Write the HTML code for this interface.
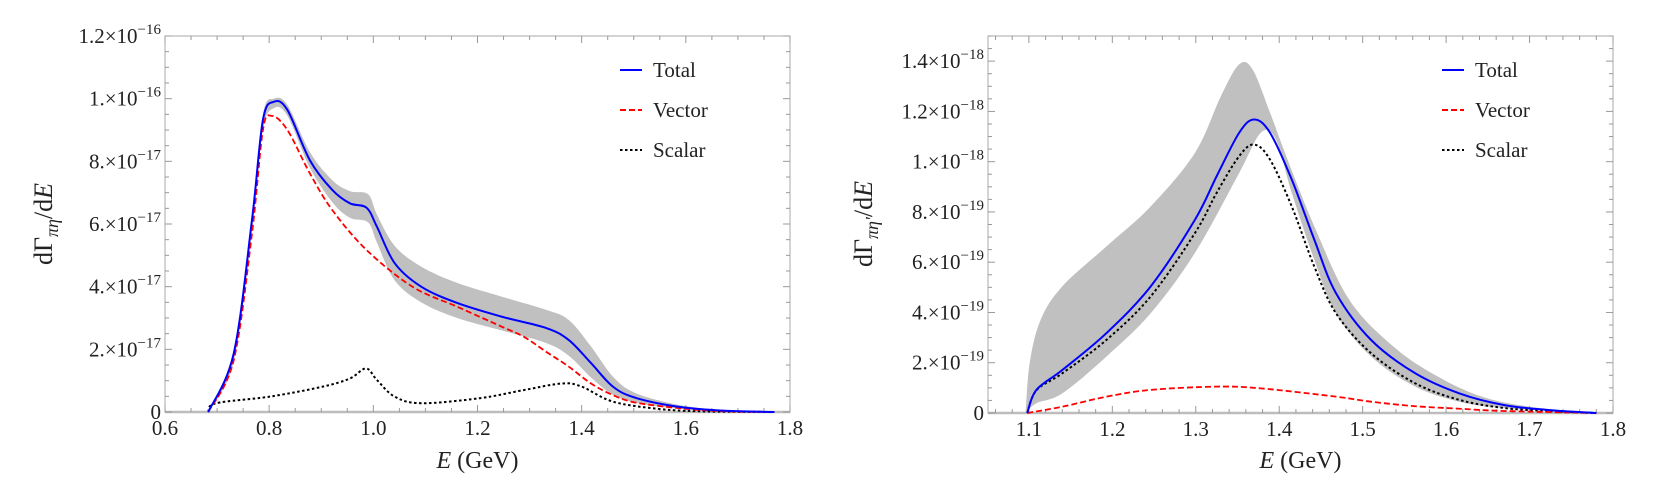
<!DOCTYPE html>
<html><head><meta charset="utf-8">
<style>
html,body{margin:0;padding:0;background:#fff;}
svg{display:block;font-family:"Liberation Serif",serif;}
</style></head>
<body>
<svg id="svg" width="1661" height="499" viewBox="0 0 1661 499" xmlns="http://www.w3.org/2000/svg">
<g id="left"></g>
<g id="right"></g>
</svg>
<script>
// ---------- Left chart data (values in 1e-17) ----------
const L_totalE = [0.683,0.732,0.767,0.788,0.809,0.835,0.878,0.921,0.955,0.987,1.007,1.041,1.092,1.161,1.247,1.332,1.375,1.418,1.46,1.504,1.589,1.675,1.77];
const L_totalV = [0,1.87,6.13,9.32,9.9,9.64,8.04,7.09,6.66,6.52,5.91,4.75,4.0,3.48,3.04,2.68,2.30,1.56,0.81,0.45,0.16,0.04,0];
const L_vectorE = [0.683,0.732,0.767,0.788,0.805,0.835,0.878,0.921,0.987,1.075,1.161,1.247,1.289,1.332,1.375,1.418,1.46,1.504,1.589,1.675,1.77];
const L_vectorV = [0,1.66,5.7,9.0,9.45,9.0,7.62,6.45,5.17,4.0,3.36,2.72,2.40,1.92,1.45,0.91,0.54,0.30,0.12,0.02,0];
const L_scalarE = [0.683,0.698,0.801,0.903,0.955,0.986,1.007,1.041,1.092,1.204,1.289,1.362,1.40,1.46,1.547,1.632,1.77];
const L_scalarV = [0,0.28,0.49,0.81,1.07,1.39,1.02,0.49,0.28,0.44,0.70,0.91,0.81,0.33,0.10,0.02,0];
const L_bandE = [0.683,0.732,0.767,0.788,0.809,0.835,0.878,0.921,0.955,0.99,1.007,1.041,1.092,1.161,1.247,1.332,1.375,1.418,1.46,1.504,1.589,1.675,1.77];
const L_bandUp = [0,2.0,6.3,9.5,10.0,9.8,8.3,7.4,7.05,6.95,6.3,5.3,4.64,4.12,3.68,3.26,2.94,2.09,1.13,0.6,0.22,0.06,0];
const L_bandLo = [0,1.6,5.8,9.0,9.7,9.45,7.8,6.7,6.2,6.05,5.4,4.2,3.5,3.0,2.6,2.2,1.8,1.1,0.55,0.3,0.1,0.02,0];
const L_xTicks = ["0.6","0.8","1.0","1.2","1.4","1.6","1.8"];
const L_yMant = ["0","2.","4.","6.","8.","1.","1.2"];
const L_yExp = ["","−17","−17","−17","−17","−16","−16"];

// ---------- Right chart data (values in 1e-19) ----------
const R_totalE = [1.098,1.109,1.140,1.193,1.246,1.299,1.325,1.352,1.370,1.389,1.415,1.442,1.468,1.510,1.563,1.616,1.669,1.722,1.78];
const R_totalV = [0,0.92,1.71,3.18,5.04,7.69,9.42,11.15,11.68,11.15,9.29,6.90,4.77,2.91,1.58,0.78,0.32,0.12,0];
const R_scalarE = [1.098,1.109,1.140,1.193,1.246,1.299,1.325,1.352,1.370,1.389,1.415,1.442,1.468,1.510,1.563,1.616,1.669,1.722,1.78];
const R_scalarV = [0,0.9,1.58,2.91,4.64,7.16,8.76,10.22,10.68,10.08,8.22,5.83,3.97,2.38,1.18,0.52,0.2,0.08,0];
const R_vectorE = [1.098,1.14,1.193,1.246,1.325,1.378,1.468,1.51,1.563,1.616,1.669,1.78];
const R_vectorV = [0,0.25,0.65,0.92,1.05,0.98,0.65,0.45,0.27,0.17,0.08,0];
const R_upE = [1.096,1.101,1.114,1.140,1.193,1.246,1.299,1.330,1.352,1.368,1.389,1.410,1.442,1.484,1.537,1.590,1.643,1.70,1.78];
const R_upV = [0,2.0,3.7,5.04,6.63,8.22,10.35,12.6,13.87,13.67,11.95,10.08,7.43,4.5,2.64,1.45,0.65,0.25,0];
const R_loE = [1.096,1.109,1.140,1.193,1.246,1.299,1.352,1.378,1.396,1.415,1.442,1.468,1.510,1.563,1.616,1.669,1.78];
const R_loV = [0,0.39,0.78,2.25,3.97,6.37,9.55,11.15,10.88,8.76,6.1,3.97,2.25,1.05,0.45,0.2,0];
const R_xTicks = ["1.1","1.2","1.3","1.4","1.5","1.6","1.7","1.8"];
const R_yMant = ["0","2.","4.","6.","8.","1.","1.2","1.4"];
const R_yExp = ["","−19","−19","−19","−19","−18","−18","−18"];

const NS="http://www.w3.org/2000/svg";
function mk(parent,tag,attrs){const e=document.createElementNS(NS,tag);for(const k in attrs)e.setAttribute(k,attrs[k]);parent.appendChild(e);return e;}
function smooth(pts){
  let d="M"+pts[0][0].toFixed(2)+","+pts[0][1].toFixed(2);
  for(let i=0;i<pts.length-1;i++){
    const p0=pts[Math.max(0,i-1)],p1=pts[i],p2=pts[i+1],p3=pts[Math.min(pts.length-1,i+2)];
    const c1=[p1[0]+(p2[0]-p0[0])/6,p1[1]+(p2[1]-p0[1])/6];
    const c2=[p2[0]-(p3[0]-p1[0])/6,p2[1]-(p3[1]-p1[1])/6];
    d+="C"+c1[0].toFixed(2)+","+c1[1].toFixed(2)+" "+c2[0].toFixed(2)+","+c2[1].toFixed(2)+" "+p2[0].toFixed(2)+","+p2[1].toFixed(2);
  }
  return d;
}
function pts(E,V,sx,sy){return E.map((e,i)=>[sx(e),sy(V[i])]);}

function chart(g,cfg){
  const {x0,x1,y0,y1,xmin,xmax,ymax}=cfg;
  const sx=e=>x0+(e-xmin)/(xmax-xmin)*(x1-x0);
  const sy=v=>y0-(v/ymax)*(y0-y1);
  const up=pts(cfg.upE,cfg.upV,sx,sy), lo=pts(cfg.loE,cfg.loV,sx,sy).reverse();
  let bd=smooth(up); bd+=" L"+lo[0][0]+","+lo[0][1]+" "+smooth(lo).slice(1)+"Z";
  const band=mk(g,"path",{d:bd,fill:"#c0c0c0",stroke:"none"});
  
  
  const fr=mk(g,"rect",{x:x0,y:y1,width:x1-x0,height:y0-y1,fill:"none",stroke:"#a8a8a8","stroke-width":1});
  
  
  const zl=mk(g,"line",{x1:x0,x2:x1,y1:y0,y2:y0,stroke:"#bdbdbd","stroke-width":2.5});
  
  
  for(let e=cfg.xtStart;e<=xmax+1e-9;e+=cfg.xMinor){
    const isMaj=Math.abs(Math.round((e-cfg.xtStart)/cfg.xMajor)*cfg.xMajor-(e-cfg.xtStart))<1e-6;
    const len=isMaj?7:4,X=sx(e);
    if(X<x0-0.5)continue;
    mk(g,"line",{x1:X,x2:X,y1:y0,y2:y0-len,stroke:"#999","stroke-width":1});
    mk(g,"line",{x1:X,x2:X,y1:y1,y2:y1+len,stroke:"#999","stroke-width":1});
  }
  for(let e=cfg.xtStart-cfg.xMinor;e>=xmin;e-=cfg.xMinor){const X=sx(e);
    mk(g,"line",{x1:X,x2:X,y1:y0,y2:y0-4,stroke:"#999"});mk(g,"line",{x1:X,x2:X,y1:y1,y2:y1+4,stroke:"#999"});}
  cfg.xTicks.forEach((t,i)=>{
    const tx=mk(g,"text",{x:sx(cfg.xtStart+i*cfg.xMajor),y:y0+23,"font-size":21,"text-anchor":"middle",fill:"#222"});
    tx.textContent=t;
    
    
  });
  for(let v=0;v<=ymax+1e-9;v+=cfg.yMinor){
    const isMaj=Math.abs(Math.round(v/cfg.yMajor)*cfg.yMajor-v)<1e-6;
    const len=isMaj?7:4,Y=sy(v);
    mk(g,"line",{x1:x0,x2:x0+len,y1:Y,y2:Y,stroke:"#999"});
    mk(g,"line",{x1:x1,x2:x1-len,y1:Y,y2:Y,stroke:"#999"});
  }
  cfg.yMant.forEach((m,i)=>{
    const Y=sy(i*cfg.yMajor);
    const tx=mk(g,"text",{x:x0-4,y:Y+7,"font-size":21,"text-anchor":"end",fill:"#222"});
    
    
    if(cfg.yExp[i]===""){tx.textContent=m;}
    else{
      const a=mk(tx,"tspan",{});a.textContent=m+"×10";
      const b=mk(tx,"tspan",{dy:-9,"font-size":15});b.textContent=cfg.yExp[i];
    }
  });
  function curve(E,V,color,dash,name,w){
    const p=mk(g,"path",{d:smooth(pts(E,V,sx,sy)),fill:"none",stroke:color,"stroke-width":w,"stroke-dasharray":dash});
    
    
  }
  curve(cfg.sE,cfg.sV,"#000","2.5,2.5","scalar-curve",2);
  curve(cfg.vE,cfg.vV,"#ff0000","6,3","vector-curve",1.8);
  curve(cfg.tE,cfg.tV,"#0000ff","none","total-curve",2);
  const items=[["Total","#0000ff","none"],["Vector","#ff0000","6,3"],["Scalar","#000","2.5,2.5"]];
  items.forEach((it,i)=>{
    const Y=70+i*40;
    const lg=mk(g,"g",{});
    
    
    mk(lg,"line",{x1:cfg.legX,x2:cfg.legX+22,y1:Y,y2:Y,stroke:it[1],"stroke-width":2,"stroke-dasharray":it[2]});
    const t=mk(lg,"text",{x:cfg.legX+33,y:Y+7,"font-size":21,fill:"#222"});t.textContent=it[0];
  });
  const xt=mk(g,"text",{x:(x0+x1)/2,y:468,"font-size":24,"text-anchor":"middle",fill:"#222"});
  
  
  const e1=mk(xt,"tspan",{"font-style":"italic"});e1.textContent="E";
  const e2=mk(xt,"tspan",{});e2.textContent=" (GeV)";
  const yt=mk(g,"text",{transform:"translate("+cfg.ytX+",224) rotate(-90)","font-size":26,"text-anchor":"middle",fill:"#222"});
  
  
  const a=mk(yt,"tspan",{});a.textContent="dΓ";
  const b=mk(yt,"tspan",{"font-style":"italic","font-size":18,dy:6});b.textContent=cfg.sub;
  const c=mk(yt,"tspan",{dy:-6});c.textContent="/d";
  const d=mk(yt,"tspan",{"font-style":"italic"});d.textContent="E";
}

chart(document.getElementById("left"),{
  x0:165,x1:790,y0:412,y1:36,xmin:0.6,xmax:1.8,ymax:12,
  xtStart:0.6,xMajor:0.2,xMinor:0.05,xTicks:L_xTicks,
  yMajor:2,yMinor:0.5,yMant:L_yMant,yExp:L_yExp,
  upE:L_bandE,upV:L_bandUp,loE:L_bandE,loV:L_bandLo,
  tE:L_totalE,tV:L_totalV,vE:L_vectorE,vV:L_vectorV,sE:L_scalarE,sV:L_scalarV,
  legX:620,ytX:52,sub:"πη"
});
chart(document.getElementById("right"),{
  x0:988,x1:1613,y0:413,y1:36,xmin:1.051,xmax:1.8,ymax:15,
  xtStart:1.1,xMajor:0.1,xMinor:0.02,xTicks:R_xTicks,
  yMajor:2,yMinor:0.5,yMant:R_yMant,yExp:R_yExp,
  upE:R_upE,upV:R_upV,loE:R_loE,loV:R_loV,
  tE:R_totalE,tV:R_totalV,vE:R_vectorE,vV:R_vectorV,sE:R_scalarE,sV:R_scalarV,
  legX:1442,ytX:872,sub:"πη′"
});
</script>
</body></html>
